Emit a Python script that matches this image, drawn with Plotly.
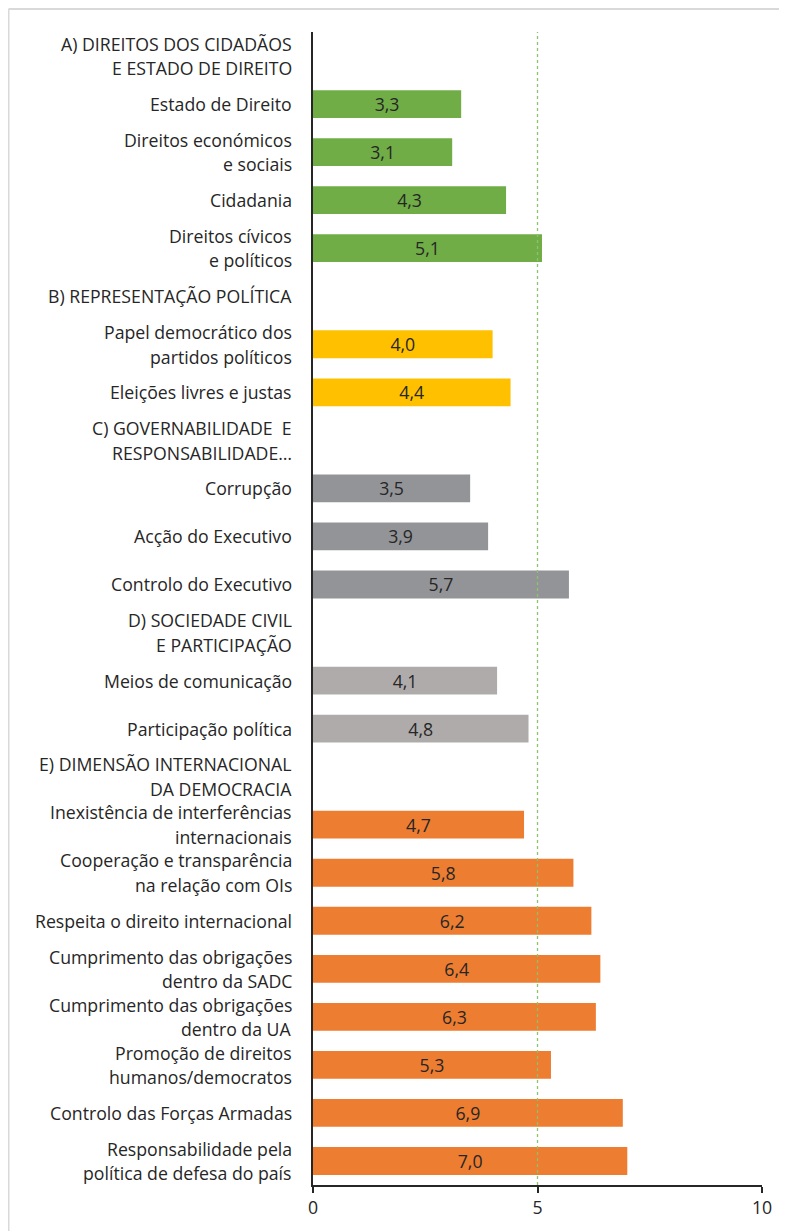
import plotly.graph_objects as go

labels = [
    "A) DIREITOS DOS CIDADÃOS<br>E ESTADO DE DIREITO",
    "Estado de Direito",
    "Direitos económicos<br>e sociais",
    "Cidadania",
    "Direitos cívicos<br>e políticos",
    "B) REPRESENTAÇÃO POLÍTICA",
    "Papel democrático dos<br>partidos políticos",
    "Eleições livres e justas",
    "C) GOVERNABILIDADE  E<br>RESPONSABILIDADE…",
    "Corrupção",
    "Acção do Executivo",
    "Controlo do Executivo",
    "D) SOCIEDADE CIVIL<br>E PARTICIPAÇÃO",
    "Meios de comunicação",
    "Participação política",
    "E) DIMENSÃO INTERNACIONAL<br>DA DEMOCRACIA",
    "Inexistência de interferências<br>internacionais",
    "Cooperação e transparência<br>na relação com OIs",
    "Respeita o direito internacional",
    "Cumprimento das obrigações<br>dentro da SADC",
    "Cumprimento das obrigações<br>dentro da UA",
    "Promoção de direitos<br>humanos/democratos",
    "Controlo das Forças Armadas",
    "Responsabilidade pela<br>política de defesa do país",
]
values = [None, 3.3, 3.1, 4.3, 5.1, None, 4.0, 4.4, None, 3.5, 3.9, 5.7,
          None, 4.1, 4.8, None, 4.7, 5.8, 6.2, 6.4, 6.3, 5.3, 6.9, 7.0]
groups = ["A", "A", "A", "A", "A", "B", "B", "B", "C", "C", "C", "C",
          "D", "D", "D", "E", "E", "E", "E", "E", "E", "E", "E", "E"]
group_colors = {"A": "#70AD47", "B": "#FFC000", "C": "#939497",
                "D": "#AFABAB", "E": "#ED7D31"}
x_ticks = [0, 5, 10]

FONT = "Open Sans"
FS = 17.7
TXT = "#262626"
ypos = list(range(len(labels)))
texts = ["" if v is None else f"{v:.1f}".replace(".", ",") for v in values]

fig = go.Figure()
fig.add_trace(go.Bar(
    x=values, y=ypos, orientation="h",
    marker=dict(color=[group_colors[g] for g in groups], line=dict(width=0)),
    text=texts, textposition="inside", insidetextanchor="middle",
    constraintext="none",
    textfont=dict(family=FONT, size=FS, color=TXT),
    hoverinfo="skip", cliponaxis=False,
))

# category labels (one annotation per line)
LH = 24.5
for i, lab in enumerate(labels):
    lines = lab.split("<br>")
    n = len(lines)
    for k, ln in enumerate(lines):
        fig.add_annotation(
            x=0, xref="paper", y=i, yref="y", text=ln, showarrow=False,
            xanchor="right", yanchor="middle", xshift=-19,
            yshift=-(k - (n - 1) / 2) * LH,
            font=dict(family=FONT, size=FS, color=TXT),
        )

# dotted reference gridline at 5 (drawn over the bars)
fig.add_shape(type="line", xref="x", yref="paper", x0=5, x1=5, y0=0, y1=1,
              line=dict(color="#8CC46A", width=1.3, dash="dot"), layer="above")

W, H = 779, 1223
L, R, T, B = 305, 25, 24, 44
pw, ph = W - L - R, H - T - B
fx0 = -(L - 0.5) / pw
fy1 = 1 + (T - 1) / ph
# outer light frame (top and left edges)
fig.add_shape(type="line", xref="paper", yref="paper",
              x0=fx0, x1=1.2, y0=fy1, y1=fy1,
              line=dict(color="#D9D9D9", width=2))
fig.add_shape(type="line", xref="paper", yref="paper",
              x0=fx0, x1=fx0, y0=-0.1, y1=fy1,
              line=dict(color="#D9D9D9", width=2))

fig.update_layout(
    width=W, height=H,
    margin=dict(l=L, r=R, t=T, b=B),
    paper_bgcolor="white", plot_bgcolor="white",
    bargap=0.42, showlegend=False,
    font=dict(family=FONT, size=FS, color=TXT),
)
fig.update_xaxes(
    range=[0, 10], tickvals=x_ticks, ticktext=[str(t) for t in x_ticks],
    showgrid=False, zeroline=False, showline=True, linecolor=TXT,
    linewidth=1.5, ticks="outside", ticklen=6, tickcolor=TXT,
    tickwidth=1.5, tickfont=dict(family=FONT, size=FS, color=TXT),
)
fig.update_yaxes(
    range=[len(labels) - 0.5, -0.5], showticklabels=False, showgrid=False,
    zeroline=False, showline=True, linecolor=TXT, linewidth=1.5,
    ticks="",
)

fig.write_html("out.html")
